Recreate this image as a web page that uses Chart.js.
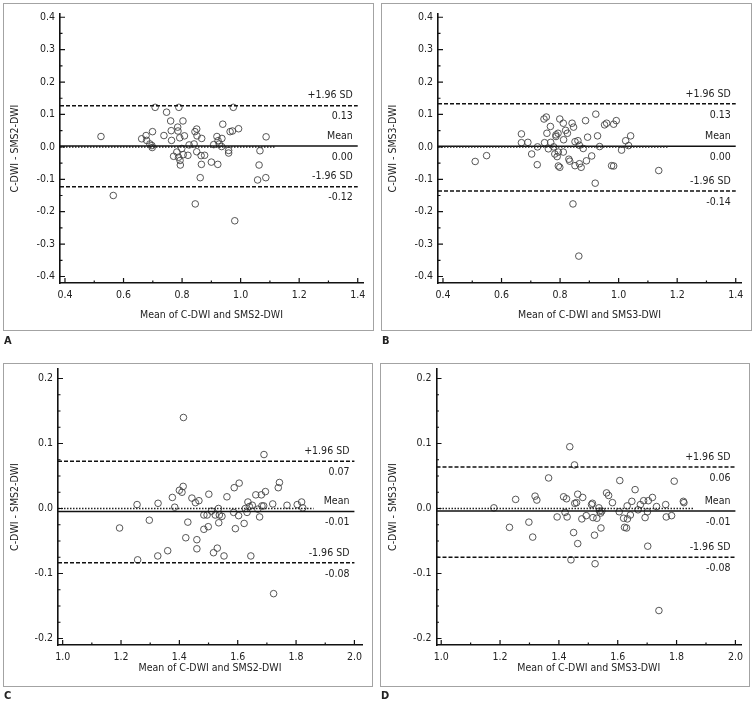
<!DOCTYPE html>
<html>
<head>
<meta charset="utf-8">
<script src="https://cdn.jsdelivr.net/npm/chart.js@4.4.0/dist/chart.umd.min.js"></script>
<style>
  body { margin: 0; background: #fff; width: 756px; height: 708px; position: relative; overflow: hidden;
         font-family: "DejaVu Sans Condensed", "DejaVu Sans", sans-serif; }
  .frame { position: absolute; box-sizing: border-box; border: 1px solid #a3a3a3; }
  .tag { position: absolute; font-weight: bold; font-size: 11px; line-height: 11px; color: #222; }
  canvas { position: absolute; }
</style>
</head>
<body>
<div class="frame" style="left:3px;top:3px;width:371px;height:328px"></div>
<div class="frame" style="left:381px;top:3px;width:371px;height:328px"></div>
<div class="frame" style="left:3px;top:363px;width:370px;height:324px"></div>
<div class="frame" style="left:380px;top:363px;width:370px;height:324px"></div>
<canvas id="chartA" width="378" height="354" style="left:0;top:0"></canvas>
<canvas id="chartB" width="378" height="354" style="left:378px;top:0"></canvas>
<canvas id="chartC" width="378" height="354" style="left:0;top:354px"></canvas>
<canvas id="chartD" width="378" height="354" style="left:378px;top:354px"></canvas>
<div class="tag" style="left:4px;top:335px">A</div>
<div class="tag" style="left:382px;top:335px">B</div>
<div class="tag" style="left:4px;top:690px">C</div>
<div class="tag" style="left:381px;top:690px">D</div>
<script>
// tick labels
const xTicksAB = [0.4, 0.6, 0.8, 1.0, 1.2, 1.4];
const yTicksAB = [-0.4, -0.3, -0.2, -0.1, 0.0, 0.1, 0.2, 0.3, 0.4];
const xTicksCD = [1.0, 1.2, 1.4, 1.6, 1.8, 2.0];
const yTicksCD = [-0.2, -0.1, 0.0, 0.1, 0.2];
const limitNames = ['+1.96 SD', 'Mean', '-1.96 SD'];

// A: C-DWI vs SMS2-DWI
const meanA = [0.523,0.565,0.662,0.677,0.679,0.690,0.699,0.698,0.697,0.708,0.738,0.747,0.761,0.763,0.764,
  0.771,0.782,0.785,0.786,0.789,0.792,0.788,0.793,0.794,0.799,0.803,0.808,0.804,0.820,0.824,0.841,0.844,
  0.850,0.851,0.850,0.845,0.865,0.867,0.866,0.862,0.877,0.900,0.908,0.919,0.923,0.922,0.927,0.936,0.939,
  0.935,0.959,0.959,0.964,0.972,0.975,0.980,0.993,1.058,1.063,1.066,1.087,1.086];
const diffA = [0.032,-0.150,0.025,0.035,0.020,0.009,0.047,-0.002,0.004,0.122,0.035,0.107,0.080,0.050,0.020,
  -0.029,-0.016,0.061,0.049,0.122,0.028,-0.032,-0.042,-0.056,-0.005,0.080,0.034,-0.024,-0.026,0.006,0.009,0.047,
  0.055,0.034,-0.015,-0.176,-0.027,0.026,-0.054,-0.095,-0.026,-0.047,0.007,0.032,0.019,-0.054,0.009,0.026,0.070,
  0.001,-0.011,-0.019,0.047,0.049,0.122,-0.228,0.056,-0.102,-0.056,-0.012,0.031,-0.095];
const limitsA = [0.127, 0.003, -0.123];
const limitTextA = ['0.13', '0.00', '-0.12'];

// B: C-DWI vs SMS3-DWI
const meanB = [0.510,0.549,0.668,0.668,0.690,0.703,0.722,0.723,0.745,0.753,0.747,0.755,0.760,0.767,0.768,
  0.778,0.782,0.786,0.786,0.790,0.793,0.794,0.794,0.799,0.799,0.811,0.811,0.812,0.819,0.825,0.830,0.833,
  0.841,0.846,0.844,0.851,0.851,0.861,0.866,0.866,0.872,0.864,0.879,0.887,0.890,0.894,0.908,0.920,0.922,
  0.928,0.935,0.952,0.959,0.976,0.983,0.983,0.992,1.010,1.024,1.034,1.041,1.137];
const diffB = [-0.045,-0.027,0.040,0.013,0.014,-0.022,-0.055,0.000,0.086,0.092,0.013,0.042,-0.006,0.063,0.014,
  0.000,-0.022,0.037,0.032,-0.030,0.042,-0.016,-0.059,0.086,-0.063,-0.016,0.073,0.022,0.051,0.042,-0.038,-0.044,
  0.073,0.061,-0.176,0.016,-0.058,0.019,0.005,-0.052,-0.063,-0.337,-0.005,0.081,-0.043,0.030,-0.028,-0.112,0.101,
  0.034,0.001,0.068,0.073,-0.058,-0.059,0.070,0.081,-0.010,0.019,0.004,0.034,-0.073];
const limitsB = [0.133, 0.002, -0.136];
const limitTextB = ['0.13', '0.00', '-0.14'];

// C: C-DWI vs SMS2-DWI
const meanC = [1.195,1.255,1.257,1.297,1.326,1.327,1.360,1.376,1.384,1.400,1.409,1.413,1.414,1.422,1.429,
  1.443,1.455,1.460,1.460,1.467,1.484,1.484,1.495,1.499,1.501,1.510,1.517,1.523,1.530,1.534,1.535,1.537,
  1.546,1.553,1.563,1.586,1.588,1.592,1.603,1.605,1.622,1.626,1.632,1.635,1.640,1.645,1.650,1.662,1.669,
  1.675,1.681,1.683,1.689,1.690,1.695,1.720,1.723,1.739,1.743,1.769,1.804,1.819,1.823];
const diffC = [-0.030,0.006,-0.079,-0.018,-0.073,0.008,-0.065,0.017,0.002,0.028,0.025,0.034,0.140,-0.045,-0.021,
  0.016,0.009,-0.048,-0.062,0.012,-0.032,-0.010,-0.010,-0.028,0.022,-0.004,-0.068,-0.010,-0.061,0.000,-0.022,-0.010,
  -0.012,-0.073,0.018,-0.006,0.032,-0.031,-0.011,0.039,-0.023,0.000,-0.006,0.010,0.003,-0.073,0.005,0.021,-0.001,
  -0.013,0.021,0.004,0.004,0.083,0.026,0.007,-0.131,0.032,0.040,0.005,0.006,0.010,0.001];
const limitsC = [0.0726, -0.0045, -0.0835];
const limitTextC = ['0.07', '-0.01', '-0.08'];

// D: C-DWI vs SMS3-DWI
const meanD = [1.179,1.232,1.253,1.298,1.311,1.319,1.325,1.365,1.394,1.416,1.421,1.426,1.428,1.437,1.441,
  1.450,1.453,1.454,1.460,1.464,1.464,1.478,1.481,1.493,1.511,1.514,1.516,1.521,1.523,1.529,1.536,1.538,
  1.543,1.542,1.546,1.562,1.569,1.582,1.605,1.607,1.620,1.623,1.630,1.632,1.633,1.643,1.648,1.659,1.669,
  1.677,1.688,1.693,1.701,1.702,1.704,1.718,1.732,1.740,1.763,1.765,1.783,1.792,1.823,1.825];
const diffD = [0.001,-0.029,0.014,-0.021,-0.044,0.019,0.013,0.047,-0.013,0.018,-0.006,0.015,-0.013,0.095,-0.079,
  -0.037,0.067,0.008,0.009,0.022,-0.054,-0.016,0.017,-0.011,0.006,0.008,-0.014,-0.041,-0.085,-0.015,0.001,-0.004,
  -0.030,-0.007,-0.004,0.024,0.020,0.009,-0.005,0.043,-0.015,-0.029,-0.030,0.004,-0.016,-0.010,0.011,0.029,-0.002,
  0.006,0.012,-0.014,-0.005,-0.058,0.012,0.017,0.003,-0.157,0.006,-0.013,-0.011,0.042,0.011,0.009];
const limitsD = [0.064, -0.004, -0.075];
const limitTextD = ['0.06', '-0.01', '-0.08'];

const FONT = '"DejaVu Sans Condensed", "DejaVu Sans", sans-serif';
Chart.defaults.font.family = FONT;
Chart.defaults.color = '#222';

// inward tick marks + limit captions
const blandAltman = {
  id: 'blandAltman',
  afterDatasetsDraw(chart, args, o) {
    const {ctx, chartArea: a, scales: {x, y}} = chart;
    ctx.save();
    ctx.strokeStyle = '#111';
    ctx.lineWidth = 1.2;
    ctx.beginPath();
    o.yTicks.forEach((v, i) => {
      const py = y.getPixelForValue(v);
      ctx.moveTo(a.left, py); ctx.lineTo(a.left + 5, py);
      if (i < o.yTicks.length - 1) {
        const step = (o.yTicks[i + 1] - v) / o.yMinor;
        for (let k = 1; k < o.yMinor; k++) {
          const pm = y.getPixelForValue(v + step * k);
          ctx.moveTo(a.left, pm); ctx.lineTo(a.left + 2.5, pm);
        }
      }
    });
    o.xTicks.forEach((v, i) => {
      const px = x.getPixelForValue(v);
      ctx.moveTo(px, a.bottom); ctx.lineTo(px, a.bottom - 5);
      if (i < o.xTicks.length - 1) {
        const pm = x.getPixelForValue((v + o.xTicks[i + 1]) / 2);
        ctx.moveTo(pm, a.bottom); ctx.lineTo(pm, a.bottom - 2.5);
      }
    });
    ctx.stroke();

    ctx.font = '10.5px ' + FONT;
    ctx.fillStyle = '#222';
    ctx.textAlign = 'right';
    ctx.textBaseline = 'middle';
    const xr = x.getPixelForValue(o.xTicks[o.xTicks.length - 1]) - 5;
    o.limits.forEach((v, i) => {
      const py = y.getPixelForValue(v);
      ctx.fillText(limitNames[i], xr, py - 10);
      ctx.fillText(o.texts[i], xr, py + 11);
    });
    ctx.restore();
  }
};

function drawPlot(id, p) {
  const xEnd = p.xTicks[p.xTicks.length - 1];
  const hline = (v, dash) => ({
    type: 'line', showLine: true, pointRadius: 0, borderColor: '#111', borderWidth: 1.5,
    borderDash: dash, data: [{x: p.xMin, y: v}, {x: xEnd, y: v}]
  });
  new Chart(document.getElementById(id), {
    type: 'scatter',
    data: {
      datasets: [
        {type: 'line', showLine: true, pointRadius: 0, borderColor: '#222', borderWidth: 1.6,
         borderDash: [1.5, 1.5], data: [{x: p.xMin, y: 0}, {x: p.zeroEnd, y: 0}]},
        hline(p.limits[1], []),
        hline(p.limits[0], [4, 2]),
        hline(p.limits[2], [4, 2]),
        {data: p.mean.map((m, i) => ({x: m, y: p.diff[i]})), pointRadius: 3.3, pointBorderWidth: 0.9,
         borderColor: '#444', backgroundColor: 'rgba(0,0,0,0)'}
      ]
    },
    options: {
      responsive: false, animation: false, devicePixelRatio: 1,
      layout: {padding: {top: p.top, right: p.right, bottom: 0, left: 0}},
      plugins: {
        legend: {display: false}, tooltip: {enabled: false},
        blandAltman: {xTicks: p.xTicks, yTicks: p.yTicks, yMinor: p.yMinor, limits: p.limits, texts: p.texts}
      },
      scales: {
        x: {
          type: 'linear', min: p.xMin, max: p.xMax,
          afterBuildTicks: s => { s.ticks = p.xTicks.map(v => ({value: v})); },
          afterFit: s => { s.height = p.xHeight; s.paddingLeft = 0; s.paddingRight = 0; },
          grid: {display: false, drawTicks: false},
          border: {display: true, color: '#111', width: 1.6},
          ticks: {padding: 6, font: {size: 10.5}, callback: v => v.toFixed(1)},
          title: {display: true, text: p.xTitle, font: {size: 10.5}, padding: {top: 0, bottom: p.xTitlePad}}
        },
        y: {
          type: 'linear', min: p.yMin, max: p.yMax,
          afterBuildTicks: s => { s.ticks = p.yTicks.map(v => ({value: v})); },
          afterFit: s => { s.width = p.left; s.paddingTop = 0; s.paddingBottom = 0; },
          grid: {display: false, drawTicks: false},
          border: {display: true, color: '#111', width: 1.6},
          ticks: {padding: 5, font: {size: 10.5}, callback: v => v.toFixed(1)},
          title: {display: true, text: p.yTitle, font: {size: 10.5}, padding: {top: 8.7, bottom: 0}}
        }
      }
    },
    plugins: [blandAltman]
  });
}

const layoutAB = {xTicks: xTicksAB, yTicks: yTicksAB, yMinor: 2, xMin: 0.383, xMax: 1.418, yMin: -0.42, yMax: 0.41,
  top: 14, right: 15, left: 60, xHeight: 71, xTitlePad: 32.7};
const layoutCD = {xTicks: xTicksCD, yTicks: yTicksCD, yMinor: 4, yMin: -0.21, yMax: 0.2146,
  top: 15, left: 58, xHeight: 63, xTitlePad: 33.4};

drawPlot('chartA', Object.assign({}, layoutAB, {mean: meanA, diff: diffA, limits: limitsA, texts: limitTextA,
  zeroEnd: 1.117, xTitle: 'Mean of C-DWI and SMS2-DWI', yTitle: 'C-DWI - SMS2-DWI'}));
drawPlot('chartB', Object.assign({}, layoutAB, {mean: meanB, diff: diffB, limits: limitsB, texts: limitTextB,
  zeroEnd: 1.168, xTitle: 'Mean of C-DWI and SMS3-DWI', yTitle: 'C-DWI - SMS3-DWI'}));
drawPlot('chartC', Object.assign({}, layoutCD, {mean: meanC, diff: diffC, limits: limitsC, texts: limitTextC,
  xMin: 0.984, xMax: 2.026, right: 16, zeroEnd: 1.86, xTitle: 'Mean of C-DWI and SMS2-DWI', yTitle: 'C-DWI - SMS2-DWI'}));
drawPlot('chartD', Object.assign({}, layoutCD, {mean: meanD, diff: diffD, limits: limitsD, texts: limitTextD,
  xMin: 0.984, xMax: 2.019, right: 15, left: 58.5, zeroEnd: 1.86, xTitle: 'Mean of C-DWI and SMS3-DWI', yTitle: 'C-DWI - SMS3-DWI'}));
</script>
</body>
</html>
